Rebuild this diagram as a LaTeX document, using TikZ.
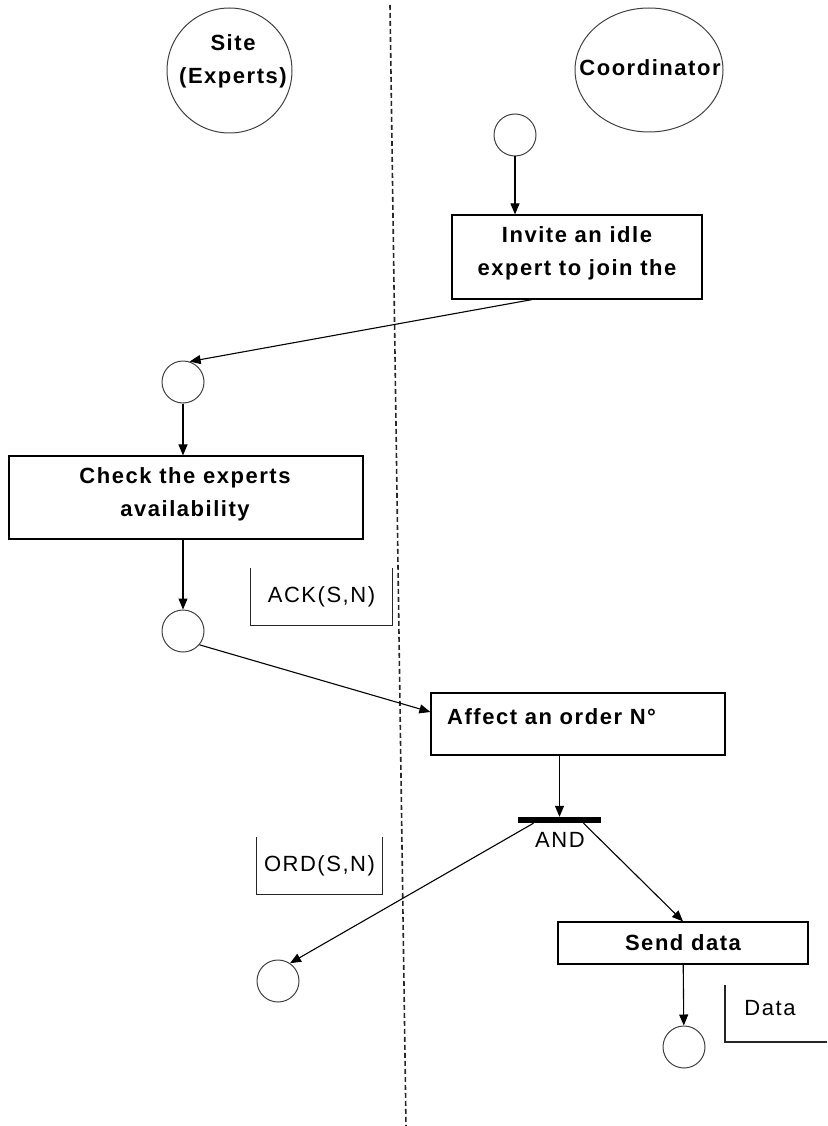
\documentclass[tikz,border=0pt]{standalone}
\usepackage{fontspec}
\setmainfont{Liberation Sans}[LetterSpace=7]
\usetikzlibrary{arrows.meta,calc,shapes.geometric}
\begin{document}
\begin{tikzpicture}[x=1pt,y=-1pt,
  every node/.style={font=\fontsize{22}{33}\selectfont},
  lab/.style={font=\fontsize{22}{33}\selectfont\bfseries, align=center, inner sep=0pt},
  actbox/.style={draw, line width=1.2pt, inner sep=0pt},
  place/.style={circle, draw=black!75, line width=1pt, minimum size=42pt, inner sep=0pt},
  flow/.style={line width=1.1pt, -{Triangle[length=11pt,width=9pt]}},
  msg/.style={inner sep=0pt, font=\fontsize{22}{33}\selectfont},
  msgline/.style={line width=1.1pt, draw=black!85},
]
\useasboundingbox (0,0) rectangle (827,1126);

% swimlane separator
\coordinate (laneTop) at (390,5);
\coordinate (laneBot) at (406,1126);
\draw[line width=1.6pt, dash pattern=on 5pt off 3pt, black!85] (laneTop) -- (laneBot);

% roles
\node[circle, draw=black!75, line width=1pt, minimum size=125pt, inner sep=0pt] (site) at (229.5,70.5) {};
\node[lab] (sitetext) at (233,61) {Site\\(Experts)};
\node[ellipse, draw=black!75, line width=1pt, minimum width=148pt, minimum height=124pt, inner sep=0pt] (coord) at (649,70) {};
\node[lab] (coordtext) at (650,68) {Coordinator};

% places
\node[place] (c1) at (515,135) {};
\node[place] (c2) at (183,382) {};
\node[place] (c3) at (183,631) {};
\node[place] (c4) at (278,981) {};
\node[place] (c5) at (684,1047) {};

% activities
\node[actbox, minimum width=250pt, minimum height=84pt] (invite) at (577,257) {};
\node[lab] (invitetext) at (577,253) {Invite an idle\\expert to join the};
\node[actbox, minimum width=354pt, minimum height=83pt] (check) at (186,497.5) {};
\node[lab] (checktext) at (185,494) {Check the experts\\availability};
\node[actbox, minimum width=294pt, minimum height=62pt] (affect) at (578,724) {};
\node[lab, anchor=west] (affecttext) at (447,717) {Affect an order N°};
\node[actbox, minimum width=250pt, minimum height=42pt] (send) at (683,943) {};
\node[lab] (sendtext) at (683,943) {Send data};

% AND bar
\node[fill=black, minimum width=83pt, minimum height=6pt, inner sep=0pt] (andbar) at (559.5,820) {};
\node[msg] (andtext) at (560,840) {AND};

% messages
\node[msg, minimum width=141pt, minimum height=57pt] (ack) at (321.5,596.5) {ACK(S,N)};
\draw[msgline] (ack.north west) -- (ack.south west) -- (ack.south east) -- (ack.north east);
\node[msg, minimum width=125pt, minimum height=57pt] (ord) at (319.5,866) {ORD(S,N)};
\draw[msgline] (ord.north west) -- (ord.south west) -- (ord.south east) -- (ord.north east);
\node[msg] (datatext) at (770,1008) {Data};
\coordinate (dataTL) at (725,985);
\coordinate (dataBL) at (725,1042);
\coordinate (dataBR) at (827,1042);
\draw[msgline] (dataTL) -- (dataBL) -- (dataBR);

% flows
\draw[flow] (c1) -- (c1 |- invite.north);
\draw[flow] ([xshift=-45pt]invite.south) -- (c2.72);
\draw[flow] (c2) -- (c2 |- check.north);
\draw[flow] (c2 |- check.south) -- (c3);
\draw[flow] (c3.-40) -- ([yshift=12pt]affect.west);
\draw[flow] (andbar.north |- affect.south) -- (andbar.north);
\draw[flow] ([xshift=-26pt]andbar.south) -- (c4.56);
\draw[flow] ([xshift=24pt]andbar.south) -- (send.north);
\draw[flow] (send) -- (c5);
\end{tikzpicture}
\end{document}
